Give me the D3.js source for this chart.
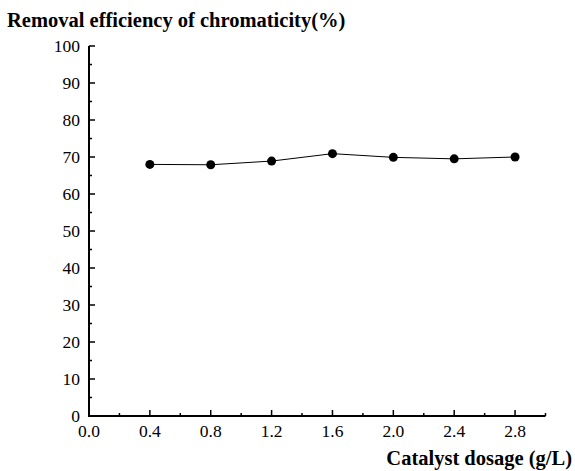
<!DOCTYPE html>
<html><head><meta charset="utf-8">
<script src="https://cdn.jsdelivr.net/npm/d3@7"></script>
<style>body{margin:0;background:#fff}svg{display:block}</style>
</head><body>
<svg id="c" width="575" height="471" font-family="'Liberation Serif','Times New Roman',Times,serif"></svg>
<script>
const dosage = [0.4, 0.8, 1.2, 1.6, 2.0, 2.4, 2.8];
const efficiency = [68.0, 67.9, 68.9, 70.9, 69.9, 69.5, 70.0];
const xTicks = [0.0, 0.4, 0.8, 1.2, 1.6, 2.0, 2.4, 2.8];
const yTicks = [0, 10, 20, 30, 40, 50, 60, 70, 80, 90, 100];

const svg = d3.select("#c");
const x = d3.scaleLinear().domain([0, 3.0]).range([89, 545.5]);
const y = d3.scaleLinear().domain([0, 100]).range([416, 46]);

const xMinor = d3.range(0.2, 3.01, 0.4);
const yMinor = d3.range(5, 100, 10);

const g = svg.append("g");
// y axis
g.append("line").attr("x1", x(0)).attr("x2", x(0)).attr("y1", y(0)).attr("y2", y(100)).attr("stroke", "#000").attr("stroke-width", 2);
g.selectAll(".ymaj").data(yTicks).join("line").attr("class","ymaj").attr("x1", x(0)).attr("x2", x(0) + 6).attr("y1", d => y(d)).attr("y2", d => y(d)).attr("stroke", "#000").attr("stroke-width", 1.5);
g.selectAll(".ymin").data(yMinor).join("line").attr("class","ymin").attr("x1", x(0)).attr("x2", x(0) + 3).attr("y1", d => y(d)).attr("y2", d => y(d)).attr("stroke", "#000").attr("stroke-width", 1.5);
g.selectAll(".ylab").data(yTicks).join("text").attr("class","ylab").attr("x", x(0) - 9).attr("y", d => y(d) + 6).attr("text-anchor", "end").attr("font-size", 17.5).text(d => d);
// x axis
g.append("line").attr("x1", x(0) - 1).attr("x2", x(3.0)).attr("y1", y(0)).attr("y2", y(0)).attr("stroke", "#000").attr("stroke-width", 2);
g.selectAll(".xmaj").data(xTicks).join("line").attr("class","xmaj").attr("x1", d => x(d)).attr("x2", d => x(d)).attr("y1", y(0)).attr("y2", y(0) - 6).attr("stroke", "#000").attr("stroke-width", 1.5);
g.selectAll(".xmin").data(xMinor).join("line").attr("class","xmin").attr("x1", d => x(d)).attr("x2", d => x(d)).attr("y1", y(0)).attr("y2", y(0) - 3).attr("stroke", "#000").attr("stroke-width", 1.5);
g.selectAll(".xlab").data(xTicks).join("text").attr("class","xlab").attr("x", d => x(d)).attr("y", y(0) + 21).attr("text-anchor", "middle").attr("font-size", 17.5).text(d => d.toFixed(1));

// titles
svg.append("text").attr("x", 7).attr("y", 27).attr("font-size", 20.5).attr("font-weight", "bold").text("Removal efficiency of chromaticity(%)");
svg.append("text").attr("x", 572).attr("y", 465).attr("text-anchor", "end").attr("font-size", 20.5).attr("font-weight", "bold").text("Catalyst dosage (g/L)");

// line + points
const data = dosage.map((d, i) => ({x: d, y: efficiency[i]}));
svg.append("path").datum(data).attr("fill", "none").attr("stroke", "#000").attr("stroke-width", 1)
  .attr("d", d3.line().x(d => x(d.x)).y(d => y(d.y)));
svg.selectAll(".pt").data(data).join("circle").attr("class","pt").attr("cx", d => x(d.x)).attr("cy", d => y(d.y)).attr("r", 4.5).attr("fill", "#000");
</script>
</body></html>
